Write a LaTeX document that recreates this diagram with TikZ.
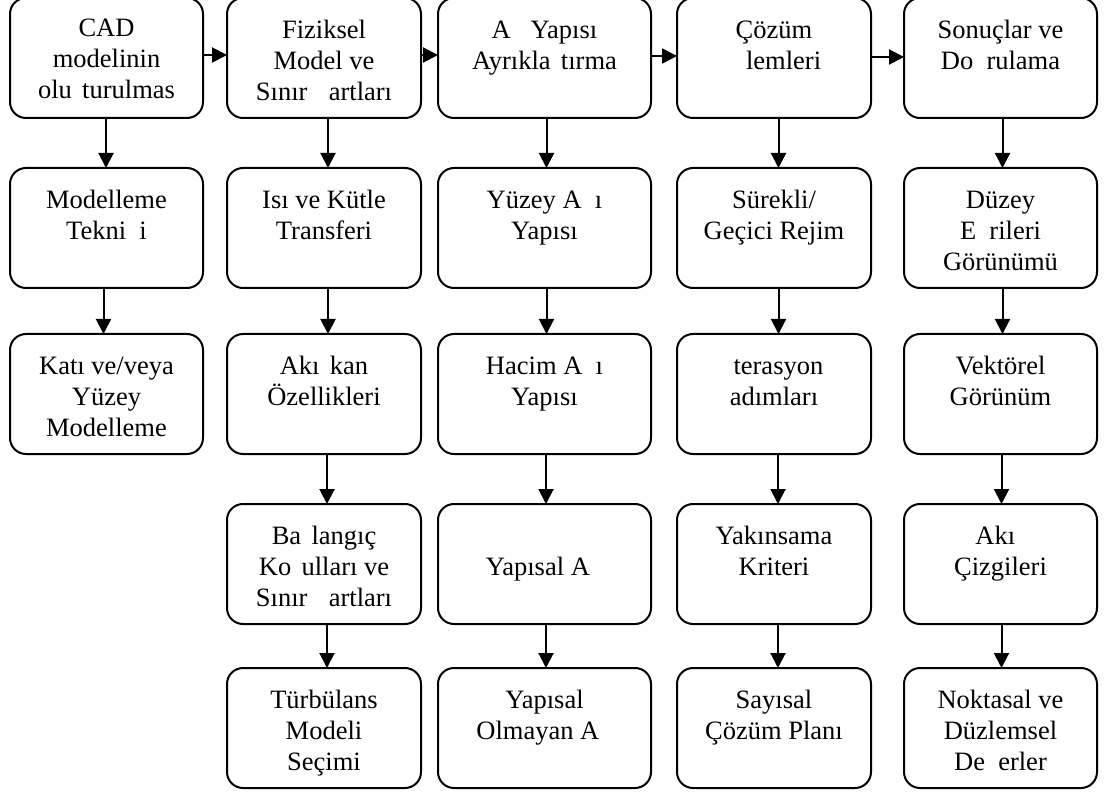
\documentclass[tikz,border=0pt]{standalone}
\usepackage{fontspec}
\setmainfont{Liberation Serif}
\usetikzlibrary{arrows.meta}
% invisible stand-in that keeps the width of a glyph
\newcommand{\gapof}[1]{\hphantom{#1}}
% fixed height above the first baseline of every label
\newcommand{\lineone}{\rule{0pt}{26pt}}
\begin{document}
\begin{tikzpicture}[x=1pt,y=-1pt,
  stepbox/.style={draw=black,line width=2pt,rounded corners=16pt,inner sep=0pt,outer sep=0pt,minimum height=120pt},
  w1/.style={minimum width=193pt},
  w2/.style={minimum width=194pt},
  w3/.style={minimum width=213pt},
  txt/.style={anchor=north,align=center,inner sep=0pt,font=\fontsize{26.5}{31}\selectfont},
  arr/.style={line width=2pt,-{Triangle[length=15pt,width=15pt]}}]
\useasboundingbox (0,0) rectangle (1106,794);

% ---- boxes: b<column><row>
\node[stepbox,w1] (b11) at (106.5,58) {};
\node[stepbox,w1] (b12) at (106.5,228) {};
\node[stepbox,w1] (b13) at (106.5,394) {};

\node[stepbox,w2] (b21) at (324,58) {};
\node[stepbox,w2] (b22) at (324,228) {};
\node[stepbox,w2] (b23) at (324,394) {};
\node[stepbox,w2] (b24) at (324,564) {};
\node[stepbox,w2] (b25) at (324,728) {};

\node[stepbox,w3] (b31) at (544.5,58) {};
\node[stepbox,w3] (b32) at (544.5,228) {};
\node[stepbox,w3] (b33) at (544.5,394) {};
\node[stepbox,w3] (b34) at (544.5,564) {};
\node[stepbox,w3] (b35) at (544.5,728) {};

\node[stepbox,w2] (b41) at (774,58) {};
\node[stepbox,w2] (b42) at (774,228) {};
\node[stepbox,w2] (b43) at (774,394) {};
\node[stepbox,w2] (b44) at (774,564) {};
\node[stepbox,w2] (b45) at (774,728) {};

\node[stepbox,w1] (b51) at (1000.5,58) {};
\node[stepbox,w1] (b52) at (1000.5,228) {};
\node[stepbox,w1] (b53) at (1000.5,394) {};
\node[stepbox,w1] (b54) at (1000.5,564) {};
\node[stepbox,w1] (b55) at (1000.5,728) {};

% ---- texts (first baseline 40pt below the box top, i.e. top of text = baseline - 26pt)
\node[txt] (t11) at (106.5,10) {\lineone CAD\\modelinin\\olu\gapof{ş}turulmas};
\node[txt] (t12) at (106.5,182) {\lineone Modelleme\\Tekni\gapof{ğ}i};
\node[txt] (t13) at (106.5,348) {\lineone Katı ve/veya\\Yüzey\\Modelleme};

\node[txt] (t21) at (324,12) {\lineone Fiziksel\\Model ve\\Sınır \gapof{Ş}artları};
\node[txt] (t22) at (324,182) {\lineone Isı ve Kütle\\Transferi};
\node[txt] (t23) at (324,348) {\lineone Akı\gapof{ş}kan\\Özellikleri};
\node[txt] (t24) at (324,518) {\lineone Ba\gapof{ş}langıç\\Ko\gapof{ş}ulları ve\\Sınır \gapof{Ş}artları};
\node[txt] (t25) at (324,682) {\lineone Türbülans\\Modeli\\Seçimi};

\node[txt] (t31) at (544.5,12) {\lineone A\gapof{ğ} Yapısı\\Ayrıkla\gapof{ş}tırma};
\node[txt] (t32) at (544.5,182) {\lineone Yüzey A\gapof{ğ}ı\\Yapısı};
\node[txt] (t33) at (544.5,348) {\lineone Hacim A\gapof{ğ}ı\\Yapısı};
\node[txt] (t34) at (544.5,549) {\lineone Yapısal A\gapof{ğ}};
\node[txt] (t35) at (544.5,682) {\lineone Yapısal\\Olmayan A\gapof{ğ}};

\node[txt] (t41) at (774,12) {\lineone Çözüm\\\gapof{İş}lemleri};
\node[txt] (t42) at (774,182) {\lineone Sürekli/\\Geçici Rejim};
\node[txt] (t43) at (774,348) {\lineone \gapof{İ}terasyon\\adımları};
\node[txt] (t44) at (774,518) {\lineone Yakınsama\\Kriteri};
\node[txt] (t45) at (774,682) {\lineone Sayısal\\Çözüm Planı};

\node[txt] (t51) at (1000.5,12) {\lineone Sonuçlar ve\\Do\gapof{ğ}rulama};
\node[txt] (t52) at (1000.5,182) {\lineone Düzey\\E\gapof{ğ}rileri\\Görünümü};
\node[txt] (t53) at (1000.5,348) {\lineone Vektörel\\Görünüm};
\node[txt] (t54) at (1000.5,518) {\lineone Akı\gapof{ş}\\Çizgileri};
\node[txt] (t55) at (1000.5,682) {\lineone Noktasal ve\\Düzlemsel\\De\gapof{ğ}erler};

% ---- top row, left to right
\draw[arr] ([yshift=3pt]b11.east) -- ([yshift=3pt]b21.west);
\draw[arr] ([yshift=3pt]b21.east) -- ([yshift=3pt]b31.west);
\draw[arr] ([yshift=2pt]b31.east) -- ([yshift=2pt]b41.west);
\draw[arr] ([yshift=1pt]b41.east) -- ([yshift=1pt]b51.west);

% ---- columns, top to bottom
\draw[arr] ([xshift=-0.5pt]b11.south) -- ([xshift=-0.5pt]b12.north);
\draw[arr] ([xshift=-3pt]b12.south) -- ([xshift=-3pt]b13.north);

\draw[arr] ([xshift=4pt]b21.south) -- ([xshift=4pt]b22.north);
\draw[arr] ([xshift=4pt]b22.south) -- ([xshift=4pt]b23.north);
\draw[arr] ([xshift=3pt]b23.south) -- ([xshift=3pt]b24.north);
\draw[arr] ([xshift=3pt]b24.south) -- ([xshift=3pt]b25.north);

\draw[arr] ([xshift=2pt]b31.south) -- ([xshift=2pt]b32.north);
\draw[arr] ([xshift=2pt]b32.south) -- ([xshift=2pt]b33.north);
\draw[arr] ([xshift=1.5pt]b33.south) -- ([xshift=1.5pt]b34.north);
\draw[arr] ([xshift=1.5pt]b34.south) -- ([xshift=1.5pt]b35.north);

\draw[arr] ([xshift=4.5pt]b41.south) -- ([xshift=4.5pt]b42.north);
\draw[arr] ([xshift=4.5pt]b42.south) -- ([xshift=4.5pt]b43.north);
\draw[arr] ([xshift=4pt]b43.south) -- ([xshift=4pt]b44.north);
\draw[arr] ([xshift=4pt]b44.south) -- ([xshift=4pt]b45.north);

\draw[arr] ([xshift=2pt]b51.south) -- ([xshift=2pt]b52.north);
\draw[arr] ([xshift=2pt]b52.south) -- ([xshift=2pt]b53.north);
\draw[arr] ([xshift=1pt]b53.south) -- ([xshift=1pt]b54.north);
\draw[arr] ([xshift=1pt]b54.south) -- ([xshift=1pt]b55.north);
\end{tikzpicture}
\end{document}
